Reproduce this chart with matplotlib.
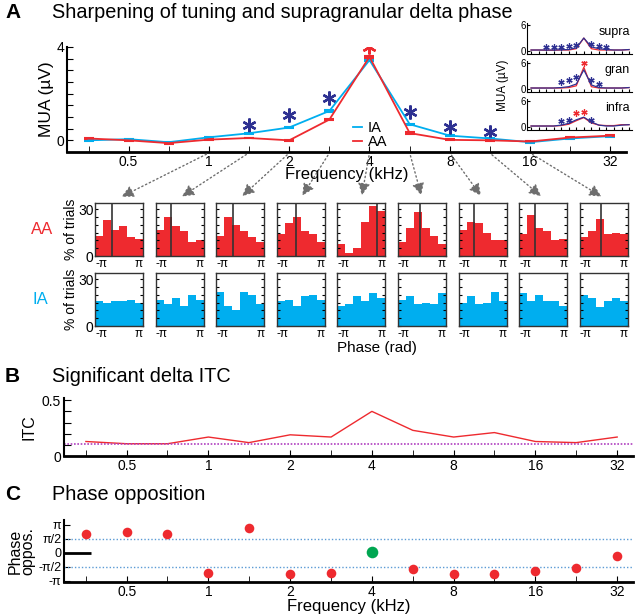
import numpy as np
import matplotlib.pyplot as plt
from matplotlib.lines import Line2D
from matplotlib.patches import FancyArrowPatch
from matplotlib.ticker import FixedLocator, NullFormatter

plt.rcParams['font.family'] = ['Liberation Sans', 'DejaVu Sans']

# ---- data ----
freqs = [0.354, 0.5, 0.707, 1, 1.41, 2, 2.83, 4, 5.66, 8, 11.3, 16, 22.6, 32]
oct_ticks = [0.5, 1, 2, 4, 8, 16, 32]
oct_labels = ['0.5', '1', '2', '4', '8', '16', '32']

mua_ia = [0.0, 0.05, -0.08, 0.13, 0.3, 0.55, 1.26, 3.44, 0.69, 0.2, 0.08, -0.08, 0.08, 0.18]
mua_aa = [0.08, 0.0, -0.12, 0.03, 0.1, 0.0, 0.89, 3.58, 0.31, 0.02, 0.0, -0.05, 0.12, 0.2]
err_ia = [0.02, 0.02, 0.02, 0.02, 0.02, 0.02, 0.03, 0.05, 0.03, 0.02, 0.02, 0.02, 0.02, 0.02]
err_aa = [0.02, 0.02, 0.02, 0.02, 0.02, 0.02, 0.03, 0.05, 0.03, 0.02, 0.02, 0.02, 0.02, 0.02]
star_blue_f = [1.41, 2, 2.83, 5.66, 8, 11.3]
star_blue_y = [0.65, 1.1, 1.8, 1.2, 0.55, 0.35]
star_red_f = [4]
star_red_y = [4.0]

# inset: supra / gran / infra
layers = ['supra', 'gran', 'infra']
lay_ia = [[0.3, 0.3, 0.3, 0.3, 0.35, 0.4, 0.8, 3.0, 1.0, 0.6, 0.4, 0.3, 0.3, 0.4],
          [0.3, 0.3, 0.3, 0.3, 0.4, 0.6, 1.2, 4.4, 1.0, 0.4, 0.3, 0.3, 0.3, 0.4],
          [0.3, 0.3, 0.3, 0.3, 0.5, 0.9, 1.7, 2.3, 1.2, 0.5, 0.3, 0.3, 0.5, 0.6]]
lay_aa = [[0.3, 0.3, 0.25, 0.25, 0.3, 0.3, 0.6, 3.0, 0.6, 0.3, 0.3, 0.3, 0.3, 0.4],
          [0.3, 0.3, 0.3, 0.3, 0.3, 0.4, 0.8, 5.0, 0.6, 0.3, 0.3, 0.3, 0.3, 0.4],
          [0.3, 0.3, 0.3, 0.3, 0.4, 0.7, 1.5, 2.2, 1.0, 0.5, 0.4, 0.4, 0.6, 0.6]]
lay_star_blue_f = [[0.707, 1, 1.41, 2, 2.83, 5.66, 8, 11.3],
                   [1.41, 2, 2.83, 5.66, 8],
                   [1.41, 2, 5.66]]
lay_star_blue_y = [[1.0, 1.0, 1.0, 1.2, 1.5, 1.6, 1.2, 1.0],
                   [1.6, 2.1, 2.8, 2.1, 1.3],
                   [1.5, 1.6, 1.6]]
lay_star_red_f = [[], [4], [2.83, 4]]
lay_star_red_y = [[], [6.0], [3.2, 3.5]]

# phase histograms (% of trials, 6 bins from -pi to pi)
hist_f = [1, 1.41, 2, 2.83, 4, 5.66, 8, 11.3, 16]
hist_aa = [[13, 23, 17, 19, 12, 11],
           [17, 25, 19, 16, 9, 10],
           [13, 25, 20, 16, 12, 9],
           [14, 21, 25, 16, 14, 9],
           [7.5, 2, 5, 22, 32, 29],
           [9, 18, 28, 18, 13, 8],
           [17, 22, 21, 15, 10, 10],
           [14, 26, 18, 16, 10, 11],
           [12, 16, 24, 14, 15, 14]]
hist_ia = [[16, 15, 16, 16, 17, 15],
           [17, 14, 18, 13, 20, 17],
           [22, 13, 10, 22, 20, 14],
           [16, 17, 13, 19, 20, 17],
           [13, 14, 19, 16, 21, 18],
           [17, 19, 14, 15, 14, 21],
           [15, 19, 14, 15, 22, 16],
           [21, 16, 20, 16, 16, 13],
           [20, 18, 12, 16, 18, 16]]
mean_phase = [-0.86, -1.13, -0.94, -0.63, 2.01, -0.26, -1.15, -1.12, -0.41]

itc = [0.13, 0.11, 0.11, 0.17, 0.12, 0.19, 0.17, 0.40, 0.23, 0.17, 0.21, 0.13, 0.12, 0.17]
itc_thresh = 0.106

opp = [2.10, 2.30, 2.14, -2.26, 2.76, -2.45, -2.26, 0.1, -1.87, -2.45, -2.45, -2.07, -1.76, -0.33]
opp_green = [False, False, False, False, False, False, False, True, False, False, False, False, False, False]

RED = '#ee2a2f'
CYAN = '#00aeef'
NAVY = '#2e3192'

W, H = 640, 616
fig = plt.figure(figsize=(W / 100, H / 100), dpi=100)


def add_ax(l, t, w, h):
    return fig.add_axes([l / W, 1 - (t + h) / H, w / W, h / H])


def fx(x):
    return x / W


def fy(y):
    return 1 - y / H


XMIN, XMAX = 0.294, 36.6


def freq_axis(ax):
    ax.set_xscale('log', base=2)
    ax.set_xlim(XMIN, XMAX)
    ax.xaxis.set_major_locator(FixedLocator(oct_ticks))
    ax.xaxis.set_minor_locator(FixedLocator([f for f in freqs if f not in oct_ticks]))
    ax.xaxis.set_minor_formatter(NullFormatter())
    ax.set_xticklabels(oct_labels)
    ax.tick_params(axis='x', which='both', direction='in', length=4, labelsize=10, pad=2)
    for s in ['top', 'right']:
        ax.spines[s].set_visible(False)
    ax.spines['bottom'].set_linewidth(2)
    ax.spines['left'].set_linewidth(1.5)


# ---------------- A ----------------
fig.text(fx(5), fy(13), 'A', fontsize=15, fontweight='bold', va='center')
fig.text(fx(52), fy(13), 'Sharpening of tuning and supragranular delta phase', fontsize=14.3, va='center')

ax = add_ax(67, 47, 559, 105)
freq_axis(ax)
ax.set_ylim(-0.5, 4)
ax.errorbar(freqs, mua_ia, yerr=err_ia, color=CYAN, lw=1.3, capsize=3.5, capthick=1.5)
ax.errorbar(freqs, mua_aa, yerr=err_aa, color=RED, lw=1.3, capsize=3.5, capthick=1.5)
ax.plot(star_blue_f, star_blue_y, ls='none', marker=(6, 2, 0), ms=10, mew=1.7, color=NAVY)
ax.plot(star_red_f, star_red_y, ls='none', marker=(6, 2, 0), ms=10, mew=1.7, color=RED)
ax.set_yticks(np.arange(0, 4.01, 0.5))
ax.set_yticklabels(['0', '', '', '', '', '', '', '', '4'])
ax.tick_params(axis='y', direction='in', length=4, labelsize=10, pad=2)
ax.set_ylabel('MUA (µV)', fontsize=12.5, labelpad=2)
ax.set_xlabel('Frequency (kHz)', fontsize=12, labelpad=-1)
handles = [Line2D([], [], color=CYAN, lw=1.3), Line2D([], [], color=RED, lw=1.3)]
ax.legend(handles, ['IA', 'AA'], handlelength=0.6, handletextpad=0.4, labelspacing=0.05, frameon=False,
          fontsize=10.5, loc='center left', bbox_to_anchor=(fx(340), fy(135)),
          bbox_transform=fig.transFigure)

# inset with layers
for k, name in enumerate(layers):
    top = 23 + k * 38
    ia = add_ax(527, top, 105, 31)
    ia.set_xscale('log', base=2)
    ia.set_xlim(XMIN, XMAX)
    ia.set_ylim(-0.6, 6.4)
    ia.plot(freqs, lay_aa[k], color=RED, lw=0.9)
    ia.plot(freqs, lay_ia[k], color=NAVY, lw=0.9)
    ia.plot(lay_star_blue_f[k], lay_star_blue_y[k], ls='none', marker=(6, 2, 0), ms=4.5, mew=0.9, color=NAVY)
    ia.plot(lay_star_red_f[k], lay_star_red_y[k], ls='none', marker=(6, 2, 0), ms=4.5, mew=0.9, color=RED)
    ia.xaxis.set_major_locator(FixedLocator(freqs))
    ia.xaxis.set_minor_locator(FixedLocator([]))
    ia.set_xticklabels([])
    ia.set_yticks([0, 6])
    ia.set_yticklabels(['0', '6'])
    ia.tick_params(direction='in', length=2, labelsize=7, pad=1)
    for s in ['top', 'right']:
        ia.spines[s].set_visible(False)
    ia.patch.set_alpha(0)
    ia.text(0.98, 0.72, name, transform=ia.transAxes, ha='right', va='center', fontsize=9)
fig.text(fx(503), fy(85), 'MUA (µV)', rotation=90, ha='center', va='center', fontsize=8.5)

# phase histograms
edges = np.linspace(-np.pi, np.pi, 7)
centers = edges[:-1] + np.pi / 6
for i in range(9):
    left = 95 + i * 60.6
    for row, (vals, col, top) in enumerate([(hist_aa[i], RED, 203), (hist_ia[i], CYAN, 273)]):
        h = add_ax(left, top, 48, 53)
        h.bar(centers, vals, width=2 * np.pi / 6, color=col, linewidth=0)
        if row == 0:
            h.axvline(mean_phase[i], color='#333333', lw=1.2)
        h.set_xlim(-np.pi, np.pi)
        h.set_ylim(0, 34)
        h.set_xticks([-np.pi, np.pi])
        labs = h.set_xticklabels(['-π', 'π'])
        labs[0].set_ha('left')
        labs[1].set_ha('right')
        h.set_yticks(np.arange(0, 31, 5))
        if i == 0:
            h.set_yticklabels(['0', '', '', '', '', '', '30'])
        else:
            h.set_yticklabels([])
        h.tick_params(axis='x', length=0, labelsize=8.5, pad=1.5)
        h.tick_params(axis='y', direction='in', length=2.5, left=True, right=True, labelsize=10, pad=1)
        for s in h.spines.values():
            s.set_color('#333333')
            s.set_linewidth(1)
    cx = left + 24
    x0 = 67 + np.log2(hist_f[i] / XMIN) / np.log2(XMAX / XMIN) * 559
    fig.add_artist(FancyArrowPatch(posA=(fx(x0), fy(153)), posB=(fx(cx), fy(198)),
                                   transform=fig.transFigure, arrowstyle='-|>', mutation_scale=18,
                                   linestyle=(0, (1, 2)), color='#6e6e6e', lw=1))

fig.text(fx(42), fy(229), 'AA', color=RED, fontsize=12, ha='center', va='center')
fig.text(fx(40), fy(300), 'IA', color=CYAN, fontsize=12, ha='center', va='center')
fig.text(fx(71), fy(229), '% of trials', rotation=90, fontsize=10, ha='center', va='center')
fig.text(fx(71), fy(299), '% of trials', rotation=90, fontsize=10, ha='center', va='center')
fig.text(fx(377), fy(348), 'Phase (rad)', fontsize=11, ha='center', va='center')

# ---------------- B ----------------
fig.text(fx(5), fy(376), 'B', fontsize=15, fontweight='bold', va='center')
fig.text(fx(52), fy(376), 'Significant delta ITC', fontsize=14.3, va='center')

axb = add_ax(64, 398, 569, 58)
freq_axis(axb)
axb.set_ylim(0, 0.52)
axb.plot(freqs, itc, color=RED, lw=1)
axb.axhline(itc_thresh, color='#b040c0', lw=1.2, ls=(0, (1, 1)))
axb.set_yticks(np.arange(0, 0.51, 0.1))
axb.set_yticklabels(['0', '', '', '', '', '0.5'])
axb.tick_params(axis='y', direction='in', length=5, labelsize=10, pad=2)
axb.set_ylabel('ITC', fontsize=11.5, labelpad=4)

# ---------------- C ----------------
fig.text(fx(5), fy(494), 'C', fontsize=15, fontweight='bold', va='center')
fig.text(fx(52), fy(494), 'Phase opposition', fontsize=14.3, va='center')

axc = add_ax(64, 520, 569, 62)
freq_axis(axc)
axc.set_ylim(-3.3, 3.7)
axc.axhline(np.pi / 2, color='#5b9bd5', lw=1, ls=(0, (1, 1.5)))
axc.axhline(-np.pi / 2, color='#5b9bd5', lw=1, ls=(0, (1, 1.5)))
axc.plot([XMIN, 0.37], [0, 0], color='black', lw=2, solid_capstyle='butt')
for f, v, g in zip(freqs, opp, opp_green):
    if g:
        axc.scatter(f, v, s=70, color='#00a651', zorder=3, linewidths=0)
    else:
        axc.scatter(f, v, s=48, color=RED, zorder=3, linewidths=0)
axc.set_yticks([-np.pi, -np.pi / 2, 0, np.pi / 2, np.pi])
axc.set_yticklabels(['-π', '-π/2', '0', 'π/2', 'π'])
axc.tick_params(axis='y', direction='in', length=4, labelsize=9, pad=2)
axc.set_ylabel('Phase\noppos.', fontsize=11.5, labelpad=2, linespacing=0.8)
axc.set_xlabel('Frequency (kHz)', fontsize=12, labelpad=0)

fig.savefig('out.png', dpi=100)
